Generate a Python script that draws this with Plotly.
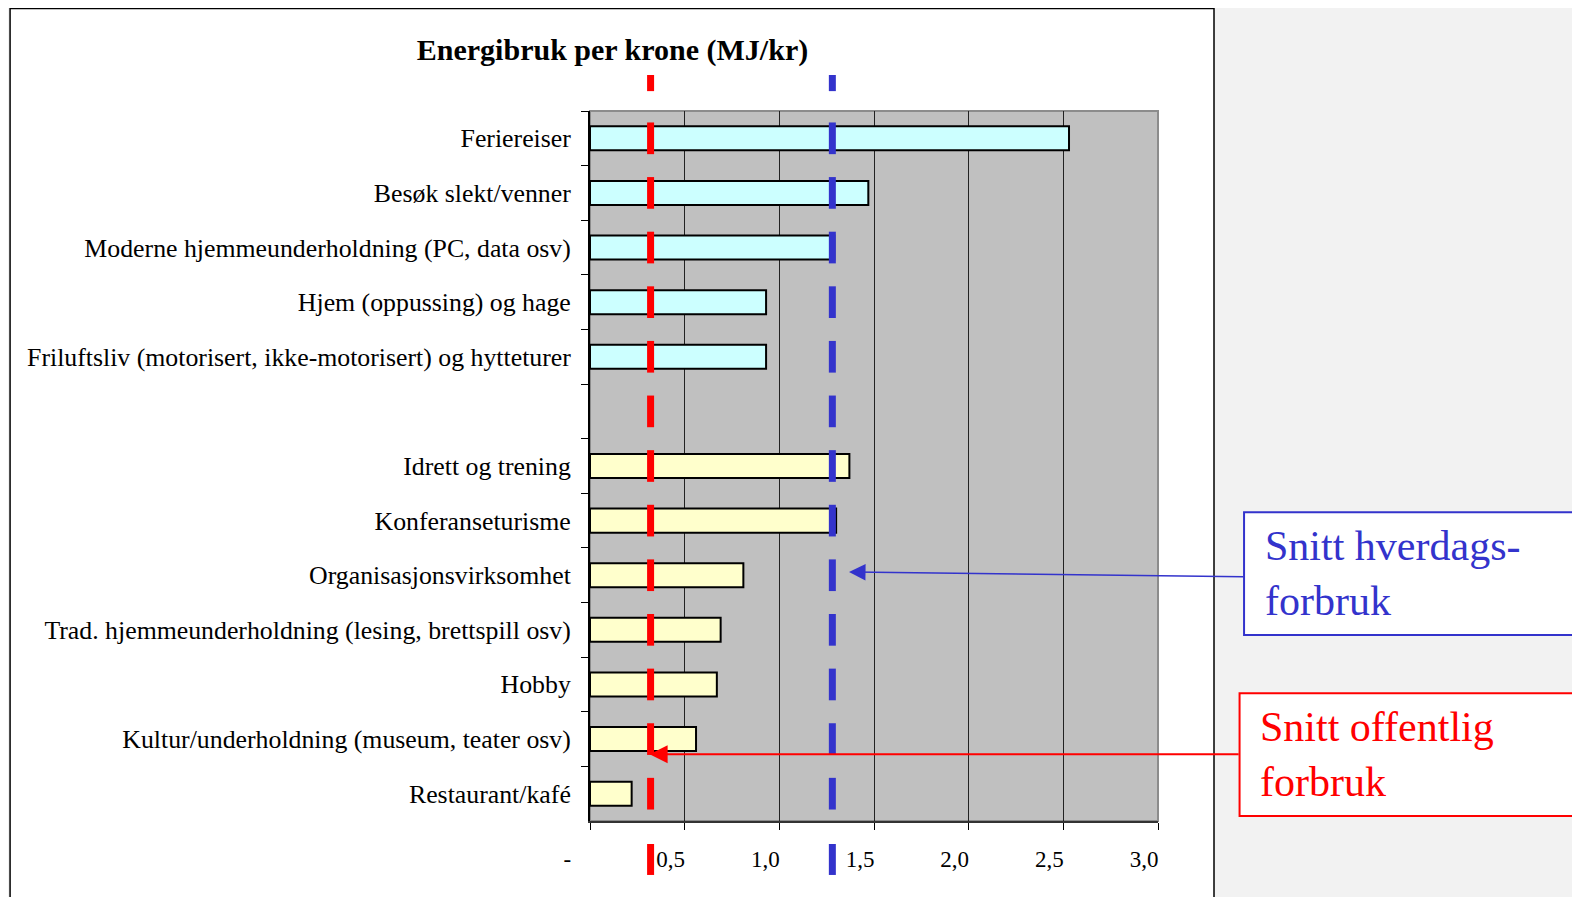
import plotly.graph_objects as go

# ---- data ----
categories = [
    "Feriereiser",
    "Besøk slekt/venner",
    "Moderne hjemmeunderholdning (PC, data osv)",
    "Hjem (oppussing) og hage",
    "Friluftsliv (motorisert, ikke-motorisert) og hytteturer",
    " ",
    "Idrett og trening",
    "Konferanseturisme",
    "Organisasjonsvirksomhet",
    "Trad. hjemmeunderholdning (lesing, brettspill osv)",
    "Hobby",
    "Kultur/underholdning (museum, teater osv)",
    "Restaurant/kafé",
]
values = [2.53, 1.47, 1.29, 0.93, 0.93, None, 1.37, 1.30, 0.81, 0.69, 0.67, 0.56, 0.22]
group = ["a", "a", "a", "a", "a", None, "b", "b", "b", "b", "b", "b", "b"]
avg_public = 0.32      # Snitt offentlig forbruk
avg_everyday = 1.28    # Snitt hverdagsforbruk
x_ticks = [0, 0.5, 1.0, 1.5, 2.0, 2.5, 3.0]
x_ticktext = ["-\u00a0\u00a0\u00a0", "0,5", "1,0", "1,5", "2,0", "2,5", "3,0"]
title = "Energibruk per krone (MJ/kr)"
label_everyday = "Snitt hverdags-<br>forbruk"
label_public = "Snitt offentlig<br>forbruk"

SERIF = "Liberation Serif, Times New Roman, serif"
colors = {"a": "#CCFFFF", "b": "#FFFFCC", None: "rgba(0,0,0,0)"}

fig = go.Figure()
fig.add_trace(go.Bar(
    y=categories, x=values, orientation="h",
    marker=dict(color=[colors[g] for g in group], line=dict(color="black", width=2)),
    width=0.44, showlegend=False, hoverinfo="skip",
))

shapes = []
# white panel
shapes.append(dict(type="rect", xref="paper", yref="paper", x0=-1.021, x1=1.0986, y0=-0.3, y1=1.1445,
                   fillcolor="white", line=dict(color="black", width=1.5), layer="below"))
# gray plot area with gray top/right border
shapes.append(dict(type="rect", xref="paper", yref="paper", x0=0, x1=1, y0=0, y1=1,
                   fillcolor="#C0C0C0", line=dict(color="#8C8C8C", width=2), layer="below"))

# dashed average lines, one dash per row
for xv, col in [(avg_public, "#FF0000"), (avg_everyday, "#3333CC")]:
    for i in range(len(categories)):
        shapes.append(dict(type="line", xref="x", yref="y", x0=xv, x1=xv, y0=i - 0.29, y1=i + 0.29,
                           line=dict(color=col, width=7)))
    shapes.append(dict(type="line", xref="x", yref="paper", x0=xv, x1=xv, y0=1.028, y1=1.0507,
                       line=dict(color=col, width=7)))
    shapes.append(dict(type="line", xref="x", yref="paper", x0=xv, x1=xv, y0=-0.076, y1=-0.0324,
                       line=dict(color=col, width=7)))

# callout boxes
shapes.append(dict(type="rect", xref="paper", yref="paper", x0=1.1515, x1=1.9, y0=0.262, y1=0.435,
                   fillcolor="white", line=dict(color="#3333CC", width=2)))
shapes.append(dict(type="rect", xref="paper", yref="paper", x0=1.1436, x1=1.9, y0=0.007, y1=0.180,
                   fillcolor="white", line=dict(color="#FF0000", width=2)))

annotations = [
    dict(xref="paper", yref="paper", x=1.184, y=0.3485, xanchor="left", yanchor="middle",
         text=label_everyday, showarrow=False, align="left",
         font=dict(family=SERIF, size=42, color="#3333CC")),
    dict(xref="paper", yref="paper", x=1.176, y=0.0935, xanchor="left", yanchor="middle",
         text=label_public, showarrow=False, align="left",
         font=dict(family=SERIF, size=42, color="#FF0000")),
    dict(x=1.368, y=7.94, xref="x", yref="y", ax=3.458, ay=8.03, axref="x", ayref="y",
         text="", showarrow=True, arrowhead=2, arrowsize=2.2, arrowwidth=1.5, arrowcolor="#3333CC"),
    dict(x=0.315, y=11.28, xref="x", yref="y", ax=3.434, ay=11.28, axref="x", ayref="y",
         text="", showarrow=True, arrowhead=2, arrowsize=1.8, arrowwidth=2, arrowcolor="#FF0000"),
]

fig.update_layout(
    width=1580, height=897,
    margin=dict(l=582, r=430, t=103, b=84),
    paper_bgcolor="#F2F2F2",
    plot_bgcolor="#C0C0C0",
    title=dict(text="<b>" + title + "</b>", x=0.3826, y=0.9532, xanchor="center", yanchor="middle",
               font=dict(family=SERIF, size=30, color="black")),
    shapes=shapes,
    annotations=annotations,
    bargap=0.5,
    xaxis=dict(range=[0, 3.0], tickvals=x_ticks, ticktext=x_ticktext, ticks="outside", ticklen=7,
               tickcolor="black", showgrid=True, gridcolor="#222222", gridwidth=1, zeroline=False,
               showline=True, linecolor="#333333", linewidth=2,
               tickfont=dict(family=SERIF, size=23, color="black"), ticklabelshift=-14,
               ticklabelstandoff=9),
    yaxis=dict(type="category", categoryorder="array", categoryarray=categories, autorange="reversed",
               tickson="boundaries", ticks="outside", ticklen=7, tickcolor="black", showgrid=False,
               showline=True, linecolor="black", linewidth=2,
               tickfont=dict(family=SERIF, size=25.8, color="black"), ticklabelstandoff=12),
)

fig.write_html("out.html")
